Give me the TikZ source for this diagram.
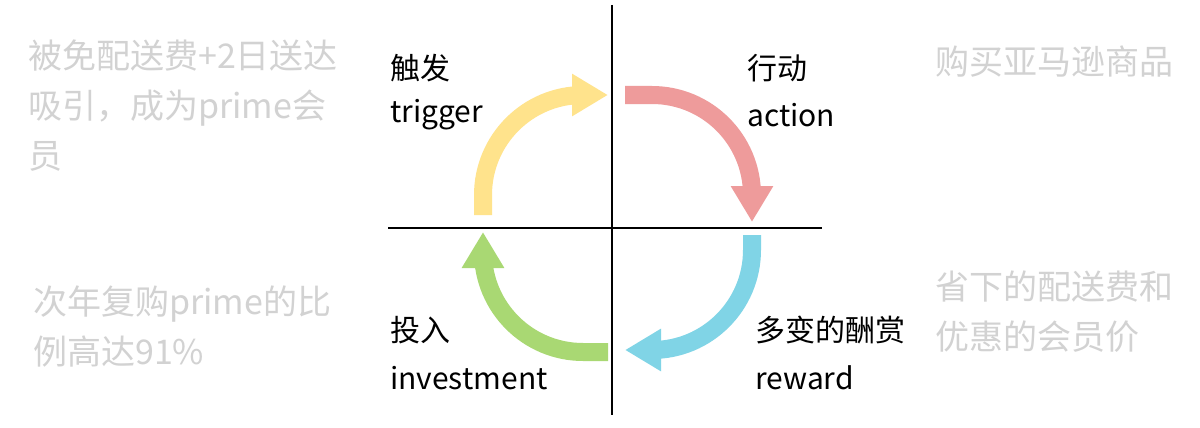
\documentclass[tikz,border=0pt]{standalone}
\usepackage{fontspec}
\setmainfont{Noto Sans CJK SC}
\usetikzlibrary{arrows.meta}
\definecolor{cy}{HTML}{FFE38C}
\definecolor{cr}{HTML}{EE9B9B}
\definecolor{cb}{HTML}{80D4E6}
\definecolor{cg}{HTML}{A9D873}
\definecolor{gt}{HTML}{D2D2D2}
\begin{document}
\begin{tikzpicture}[x=1pt,y=-1pt,
  arr/.style={line width=18pt,-{Triangle[width=40pt,length=36pt]}},
  blk/.style={anchor=west,font=\fontsize{30}{36}\selectfont,inner sep=0pt},
  gry/.style={anchor=north west,align=left,text=gt,font=\fontsize{34}{50}\selectfont,inner sep=0pt}]
\useasboundingbox[fill=white] (0,0) rectangle (1200,428);
\coordinate (vt) at (612,5); \coordinate (vb) at (612,415);
\coordinate (hl) at (388,228); \coordinate (hr) at (822,228);
\draw[line width=2.5pt] (vt)--(vb);
\draw[line width=2.5pt] (hl)--(hr);
\coordinate (y0) at (483,215); \coordinate (y1) at (608,95);
\draw[arr,cy] (y0) -- (483,195) arc[start angle=180,end angle=270,radius=100] -- (y1);
\coordinate (r0) at (625,95); \coordinate (r1) at (752,222);
\draw[arr,cr] (r0) -- (652,95) arc[start angle=270,end angle=360,radius=100] -- (r1);
\coordinate (b0) at (752,235); \coordinate (b1) at (625,350);
\draw[arr,cb] (b0) -- (752,250) arc[start angle=0,end angle=90,radius=100] -- (b1);
\coordinate (g0) at (608,352); \coordinate (g1) at (483,232);
\draw[arr,cg] (g0) -- (583,352) arc[start angle=90,end angle=180,radius=100] -- (g1);
\node[blk] (t1) at (390,68) {触发};
\node[blk] (t2) at (390,115) {trigger};
\node[blk] (a1) at (747,68) {行动};
\node[blk] (a2) at (747,115) {action};
\node[blk] (i1) at (390,330) {投入};
\node[blk] (i2) at (390,378) {investment};
\node[blk] (w1) at (755,330) {多变的酬赏};
\node[blk] (w2) at (755,378) {reward};
\node[gry] (l1) at (28,40) {被免配送费+2日送达\\吸引，成为prime会\\员};
\node[gry] (r1t) at (935,46) {购买亚马逊商品};
\node[gry] (l2) at (33,286) {次年复购prime的比\\例高达91\%};
\node[gry] (r2) at (935,271) {省下的配送费和\\优惠的会员价};
\end{tikzpicture}
\end{document}
